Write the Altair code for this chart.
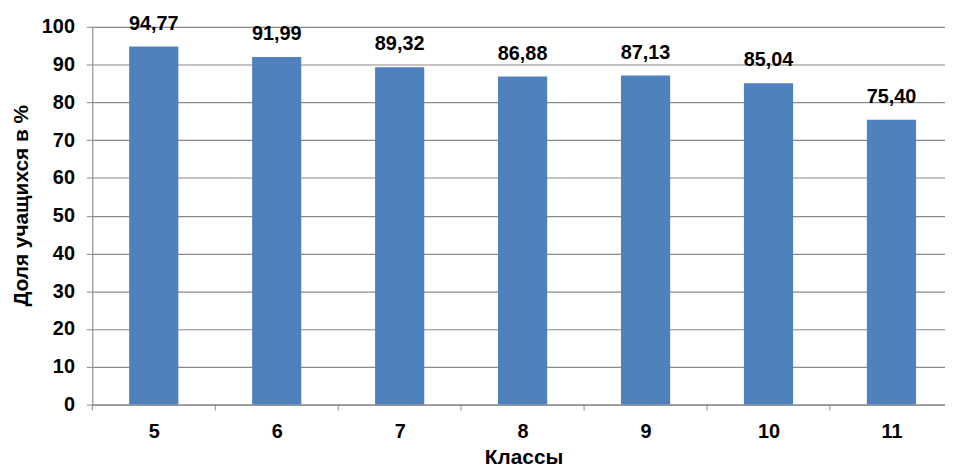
import altair as alt
import pandas as pd

classes = ["5", "6", "7", "8", "9", "10", "11"]
shares = [94.77, 91.99, 89.32, 86.88, 87.13, 85.04, 75.40]
y_ticks = [0, 10, 20, 30, 40, 50, 60, 70, 80, 90, 100]

df = pd.DataFrame({"cls": classes, "share": shares, "idx": list(range(len(classes)))})

FONT = "Liberation Sans"
GRAY = "#8a8a8a"
BAR = "#4F81BD"
FS = 20
W, H = 860, 381
STEP = 124  # pixel width of one category band in the reference

label_expr = "[" + ",".join(f"'{c}'" for c in classes) + "][datum.value]"

x_scale = alt.Scale(domain=[-0.5, -0.5 + W / STEP], nice=False, zero=False, padding=0)

x_axis = alt.Axis(
    title="Классы",
    titleFont=FONT, titleFontSize=21, titleFontWeight="bold", titleColor="black",
    titleX=435, titleY=53, titleBaseline="middle", titleAlign="center",
    values=list(range(len(classes))), labelExpr=label_expr,
    labelAngle=0, labelFont=FONT, labelFontSize=FS, labelFontWeight="bold",
    labelColor="black", labelPadding=17, ticks=False, tickSize=0,
    domainColor=GRAY, grid=False, labelFlush=False,
)

y_scale = alt.Scale(domain=[0, 100], nice=False, padding=0)
y_axis = alt.Axis(
    title="Доля учащихся в %",
    titleFont=FONT, titleFontSize=21, titleFontWeight="bold", titleColor="black",
    titleAngle=-90, titleX=-71, titleY=180, titleBaseline="middle", titleAlign="center",
    values=y_ticks, labelOverlap=False,
    labelFont=FONT, labelFontSize=FS, labelFontWeight="bold", labelColor="black",
    labelPadding=12, tickSize=6, tickColor=GRAY, domainColor=GRAY,
    grid=True, gridColor=GRAY, gridWidth=1.2,
)

base = alt.Chart(df)

bars = (
    base.transform_calculate(x0="datum.idx - 0.2", x1="datum.idx + 0.2")
    .mark_bar(color=BAR, orient="vertical")
    .encode(
        x=alt.X("x0:Q", scale=x_scale, axis=x_axis),
        x2="x1:Q",
        y=alt.Y("share:Q", scale=y_scale, axis=y_axis),
        y2=alt.datum(0),
    )
)

labels = (
    base.transform_calculate(lbl="replace(format(datum.share, '.2f'), '.', ',')")
    .mark_text(font=FONT, fontSize=FS, fontWeight="bold", color="black",
               baseline="alphabetic", dy=-17)
    .encode(
        x=alt.X("idx:Q", scale=x_scale, axis=x_axis),
        y=alt.Y("share:Q", scale=y_scale, axis=y_axis),
        text="lbl:N",
    )
)

band_ticks = (
    base.transform_calculate(b="datum.idx - 0.5")
    .mark_rule(color=GRAY, strokeWidth=1)
    .encode(
        x=alt.X("b:Q", scale=x_scale, axis=x_axis),
        y=alt.value(H),
        y2=alt.value(H + 6),
    )
)

chart = (
    alt.layer(bars, labels, band_ticks)
    .properties(
        width=W, height=H,
        autosize=alt.AutoSizeParams(type="none"),
        padding={"left": 85, "top": 17, "right": 0, "bottom": 65},
    )
    .configure_view(stroke=None)
    .configure(background="white")
)

chart.save("out.html", embed_options={"renderer": "svg", "actions": False})
